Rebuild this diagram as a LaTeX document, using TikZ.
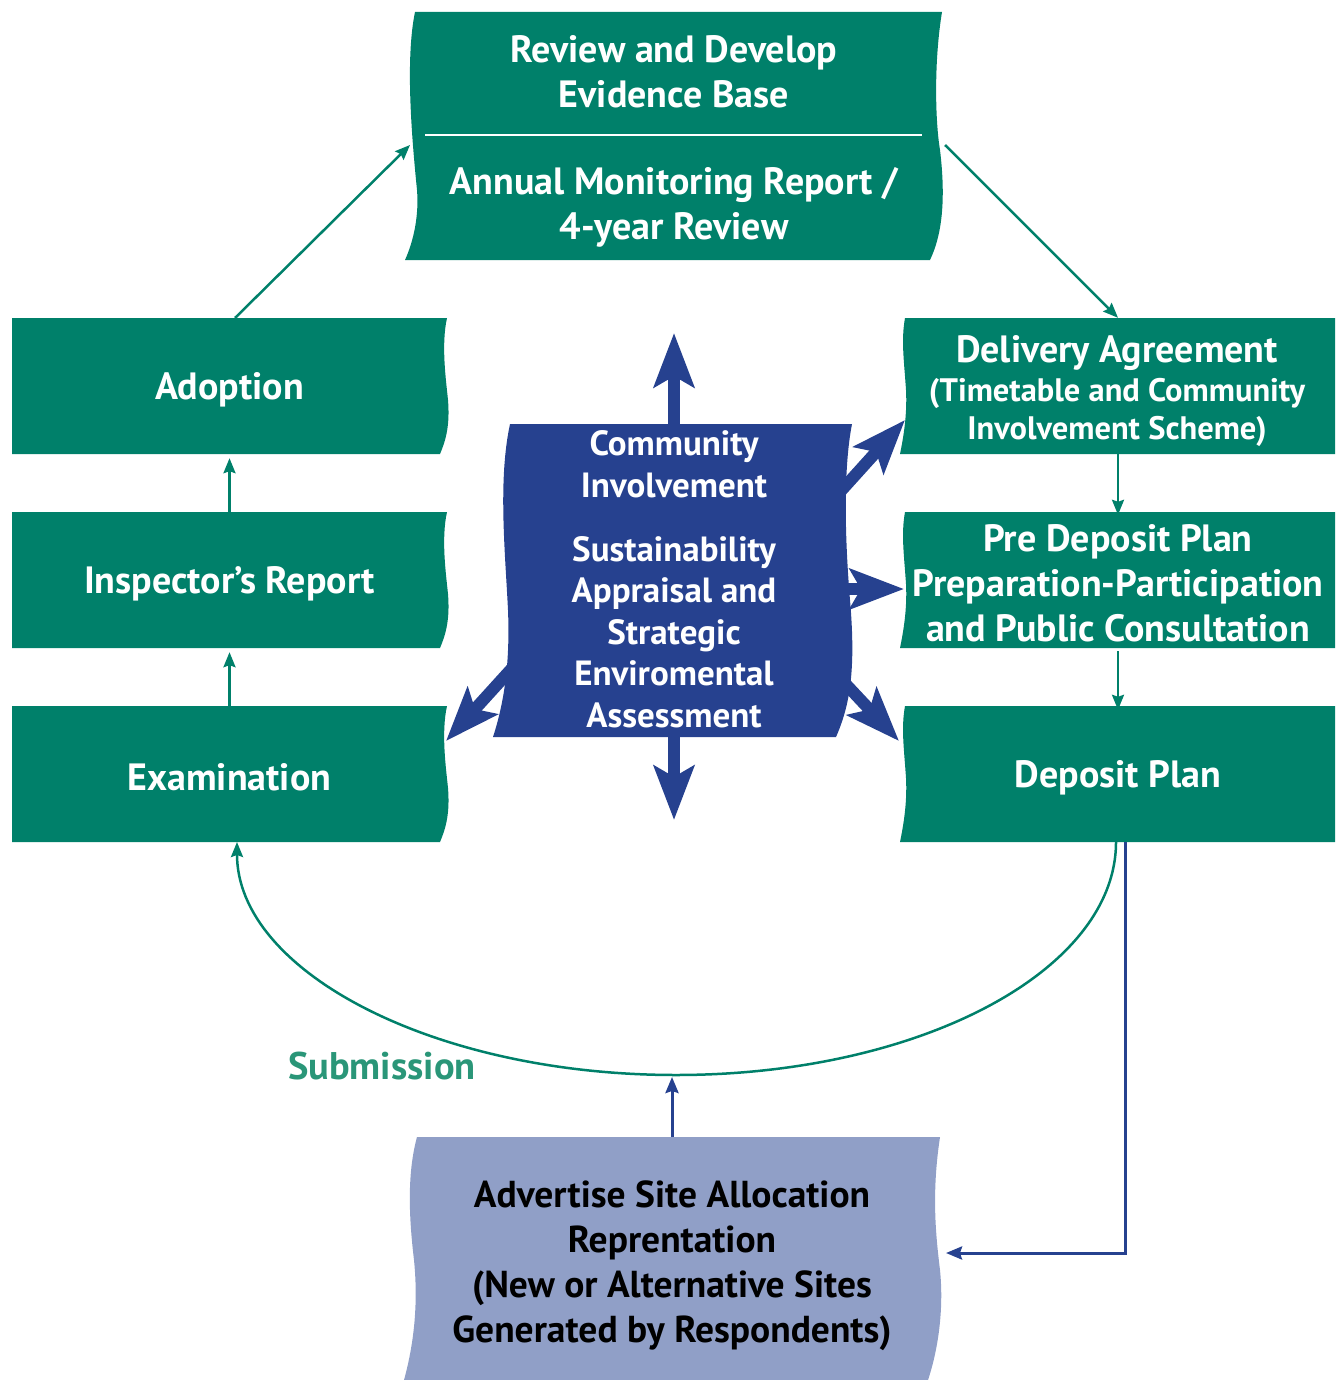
\documentclass[tikz,border=0pt]{standalone}
\usepackage{fontspec}
\setmainfont{PT Sans}
\usetikzlibrary{arrows.meta}
\definecolor{gr}{RGB}{0,128,106}
\definecolor{bl}{RGB}{38,65,143}
\definecolor{lb}{RGB}{144,159,199}
\definecolor{subc}{RGB}{42,150,120}
\begin{document}
\begin{tikzpicture}[x=1pt,y=-1pt,
  wtext/.style={text=white,font=\bfseries\fontsize{38}{45}\selectfont,align=center,inner sep=0pt},
  wsmall/.style={text=white,font=\bfseries\fontsize{32.5}{38}\selectfont,align=center,inner sep=0pt},
  ctext/.style={text=white,font=\bfseries\fontsize{35}{41.5}\selectfont,align=center,inner sep=0pt},
  ktext/.style={text=black,font=\bfseries\fontsize{37.5}{45}\selectfont,align=center,inner sep=0pt},
  garrow/.style={draw=gr,line width=2.5pt,-{Stealth[length=15pt,width=12pt,inset=2pt]}},
  gline/.style={draw=gr,line width=2.5pt},
  barrow/.style={draw=bl,line width=3pt,-{Stealth[length=16pt,width=13pt,inset=2pt]}},
  bigarrow/.style={draw=bl,line width=12pt,-{Stealth[length=54pt,width=40pt,inset=11pt]}}]
\useasboundingbox (0,0) rectangle (1343,1380);

% ---------- big blue arrows (behind the central box)
\coordinate (cU) at (674,440);
\coordinate (cD) at (674,725);
\coordinate (cUR) at (840,492);
\coordinate (cR) at (835,589);
\coordinate (cDR) at (840,678);
\coordinate (cDL) at (515,665);
\coordinate (tU) at (674,333);
\coordinate (tD) at (674,820);
\coordinate (tUR) at (905,420);
\coordinate (tR) at (904,589);
\coordinate (tDR) at (899,741);
\coordinate (tDL) at (446,741);
\draw[bigarrow] (cU) -- (tU);
\draw[bigarrow] (cD) -- (tD);
\draw[bigarrow] (cUR) -- (tUR);
\draw[bigarrow] (cR) -- (tR);
\draw[bigarrow] (cDR) -- (tDR);
\draw[bigarrow] (cDL) -- (tDL);

% ---------- top box
\fill[gr] (415,12) -- (942,12) .. controls (934,60) and (935,120) .. (940,150)
  .. controls (946,200) and (942,235) .. (930,260) -- (405,260)
  .. controls (414,240) and (419,215) .. (417,190)
  .. controls (412,140) and (405,60) .. (415,12) -- cycle;
\draw[white,line width=2pt] (425,135) -- (922,135);
\node[wtext] (evid) at (674,72) {Review and Develop\\Evidence Base};
\node[wtext] (amr) at (674,207) {Annual Monitoring Report /\\4-year Review};
\coordinate (topL) at (410,145);
\coordinate (topR) at (945,145);

% ---------- left column
\fill[gr] (12,318) -- (447,318) .. controls (441,345) and (446,380) .. (448,400)
  .. controls (450,425) and (446,440) .. (440,454) -- (12,454) -- cycle;
\fill[gr] (12,512) -- (447,512) .. controls (441,539) and (446,574) .. (448,594)
  .. controls (450,619) and (446,634) .. (440,648) -- (12,648) -- cycle;
\fill[gr] (12,706) -- (447,706) .. controls (441,733) and (446,768) .. (448,788)
  .. controls (450,813) and (446,828) .. (440,842) -- (12,842) -- cycle;
\node[wtext,minimum width=435pt,minimum height=136pt] (adopt) at (229.5,390) {Adoption};
\node[wtext,minimum width=435pt,minimum height=136pt] (insp) at (229.5,584) {Inspector’s Report};
\node[wtext,minimum width=435pt,minimum height=136pt] (exam) at (229.5,777) {Examination};

% ---------- right column
\fill[gr] (905,318) -- (1335,318) -- (1335,454) -- (900,454)
  .. controls (905,430) and (907,410) .. (906,390)
  .. controls (904,360) and (901,340) .. (905,318) -- cycle;
\fill[gr] (905,512) -- (1335,512) -- (1335,648) -- (900,648)
  .. controls (905,624) and (907,604) .. (906,584)
  .. controls (904,554) and (901,534) .. (905,512) -- cycle;
\fill[gr] (905,706) -- (1335,706) -- (1335,842) -- (900,842)
  .. controls (905,818) and (907,798) .. (906,778)
  .. controls (904,748) and (901,728) .. (905,706) -- cycle;
\node[minimum width=430pt,minimum height=136pt,inner sep=0pt] (deliv) at (1118,386) {};
\node[wtext] (delivT) at (1117,353) {Delivery Agreement};
\node[wsmall] (delivS) at (1117,412) {(Timetable and Community\\Involvement Scheme)};
\node[wtext,minimum width=430pt,minimum height=136pt] (pre) at (1118,583) {Pre Deposit Plan\\Preparation-Participation\\and Public Consultation};
\node[wtext,minimum width=430pt,minimum height=136pt] (dep) at (1118,778) {Deposit Plan};

% ---------- central box
\fill[bl] (510,424) -- (852,424) .. controls (843,470) and (845,540) .. (850,600)
  .. controls (856,670) and (850,705) .. (836,737) -- (493,737)
  .. controls (505,700) and (510,660) .. (508,610)
  .. controls (505,550) and (498,480) .. (510,424) -- cycle;
\node[ctext] (ci) at (674,464) {Community\\Involvement};
\node[ctext] (sa) at (674,632) {Sustainability\\Appraisal and\\Strategic\\Enviromental\\Assessment};

% ---------- bottom box
\fill[lb] (417,1137) -- (940,1137) .. controls (932,1190) and (935,1230) .. (940,1270)
  .. controls (944,1310) and (938,1350) .. (928,1380) -- (404,1380)
  .. controls (415,1340) and (418,1300) .. (414,1260)
  .. controls (408,1210) and (408,1170) .. (417,1137) -- cycle;
\node[ktext] (adv) at (672,1266) {Advertise Site Allocation\\Reprentation\\(New or Alternative Sites\\Generated by Respondents)};
\coordinate (advTop) at (672,1137);
\coordinate (advR) at (946,1253);

% ---------- green connectors
\coordinate (adoptTop) at (235,318);
\draw[garrow] (adoptTop) -- (topL);
\draw[garrow] (topR) -- (deliv.north);
\draw[garrow] (deliv.south) -- (pre.north);
\draw[garrow] (pre.south) -- (dep.north);
\draw[garrow] (insp.north) -- (adopt.south);
\draw[garrow] (exam.north) -- (insp.south);

% submission curve
\coordinate (depB) at (1116,842);
\coordinate (curveLow) at (676,1075);
\coordinate (examB) at (237,842);
\draw[garrow] (depB) .. controls (1116,971) and (919,1075) .. (curveLow)
  .. controls (433,1075) and (237,971) .. (examB);
\node[text=subc,font=\bfseries\fontsize{38.5}{45}\selectfont,inner sep=0pt] (subm) at (382,1066) {Submission};

% ---------- blue connectors
\coordinate (depB2) at (1125,842);
\draw[draw=bl,line width=3pt,-{Stealth[length=16pt,width=13pt,inset=2pt]}] (depB2) |- (advR);
\draw[barrow] (advTop) -- (672,1077);
\end{tikzpicture}
\end{document}
